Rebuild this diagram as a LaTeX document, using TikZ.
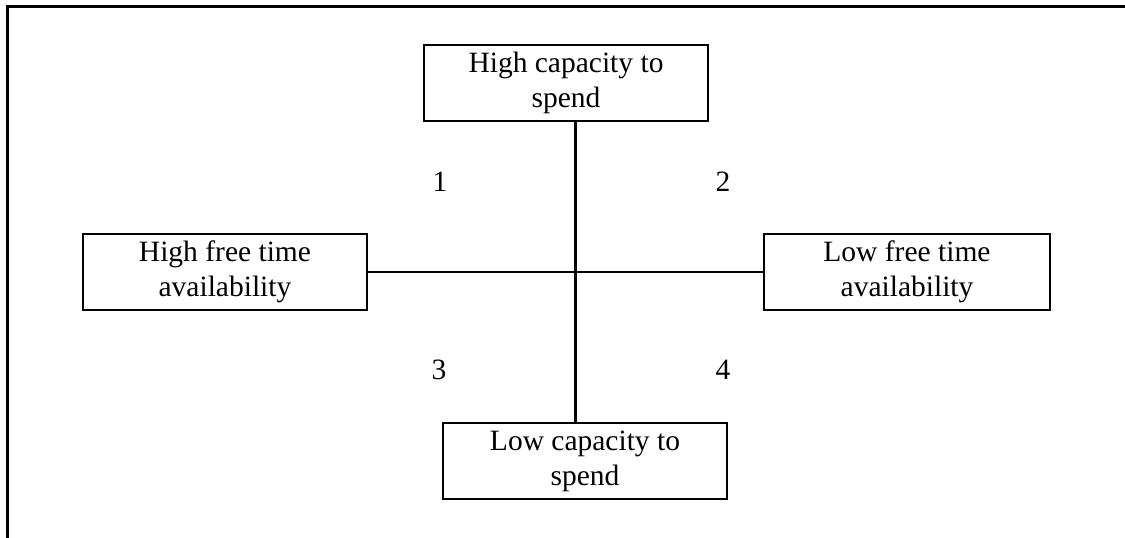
\documentclass[tikz,border=0pt]{standalone}
\usepackage{fontspec}
\setmainfont{Liberation Serif}
\begin{document}
\begin{tikzpicture}[x=1pt,y=-1pt,
  boxnode/.style={draw=black,line width=2.1pt,minimum width=284pt,minimum height=76pt,
    inner sep=0pt,align=center,font=\fontsize{29.5}{35}\selectfont},
  numlabel/.style={font=\fontsize{29.5}{35}\selectfont,inner sep=0pt},
  conn/.style={line width=2.1pt},
  frameline/.style={line width=2.8pt}]
\useasboundingbox (0,0) rectangle (1125,538);
% outer frame (top and left only)
\coordinate (ftl) at (7.5,6.5);
\coordinate (ftr) at (1125,6.5);
\coordinate (fbl) at (7.5,538);
\draw[frameline] (ftr) -- (ftl) -- (fbl);
% boxes
\node[boxnode] (top) at (566,83) {High capacity to\\spend};
\node[boxnode] (left) at (225,272) {High free time\\availability};
\node[boxnode,minimum width=286pt] (right) at (907,272) {Low free time\\availability};
\node[boxnode] (bot) at (585,461) {Low capacity to\\spend};
% axes
\coordinate (c) at (575.5,272);
\draw[conn] (c |- top.south) -- (c |- bot.north);
\draw[conn] (left.east) -- (right.west);
% quadrant numbers
\node[numlabel] (n1) at (440,182) {1};
\node[numlabel] (n2) at (723,182) {2};
\node[numlabel] (n3) at (439,370) {3};
\node[numlabel] (n4) at (723,370) {4};
\end{tikzpicture}
\end{document}
